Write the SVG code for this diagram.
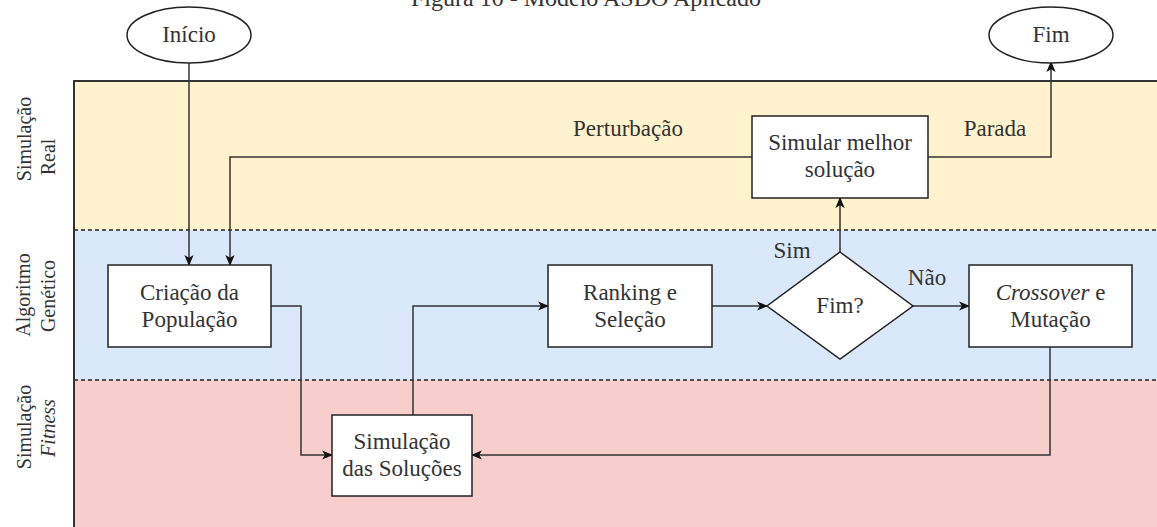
<svg xmlns="http://www.w3.org/2000/svg" width="1157" height="527" viewBox="0 0 1157 527">
  <style>
    .t { font-size: 23px; fill: #333333; text-anchor: middle; }
    .lane-t { font-size: 20px; fill: #333333; text-anchor: middle; }
    .box { fill: #ffffff; stroke: #222222; stroke-width: 1.5; }
    .edge { fill: none; stroke: #333333; stroke-width: 1.5; marker-end: url(#arrow); }
    .sep { stroke: #222222; stroke-width: 1.5; stroke-dasharray: 4 3; }
    .frame { stroke: #333333; stroke-width: 2; fill: none; }
  </style>
  <defs>
    <marker id="arrow" viewBox="0 0 10 10" refX="9" refY="5" markerWidth="11" markerHeight="11" markerUnits="userSpaceOnUse" orient="auto">
      <path d="M0,0.8 L10,5 L0,9.2 L2.5,5 Z" fill="#111111"/>
    </marker>
  </defs>

  <rect width="1157" height="527" fill="#ffffff"/>

  <!-- all lettering in one serif face -->
  <g font-family="Liberation Serif, Tinos, Noto Serif, DejaVu Serif, FreeSerif, Times New Roman, Times, serif">

  <!-- caption -->
  <text class="t" x="586" y="6" style="font-size:24px">Figura 10 - Modelo ASDO Aplicado</text>

  <!-- swimlanes -->
  <g id="lanes">
    <rect x="74" y="81" width="1083" height="149" fill="#fff2cc"/>
    <rect x="74" y="230" width="1083" height="150" fill="#dae8fc"/>
    <rect x="74" y="380" width="1083" height="147" fill="#f8cecc"/>
    <line class="sep" x1="74" y1="230" x2="1157" y2="230"/>
    <line class="sep" x1="74" y1="380" x2="1157" y2="380"/>
    <path class="frame" d="M74,527 V81 H1157"/>
    <text class="lane-t" transform="translate(31,139) rotate(-90)">Simulação</text>
    <text class="lane-t" transform="translate(55,157) rotate(-90)">Real</text>
    <text class="lane-t" transform="translate(30,295) rotate(-90)">Algoritmo</text>
    <text class="lane-t" transform="translate(55,296) rotate(-90)">Genético</text>
    <text class="lane-t" transform="translate(31,427) rotate(-90)">Simulação</text>
    <text class="lane-t" transform="translate(55,428) rotate(-90)" font-style="italic">Fitness</text>
  </g>

  <!-- connectors -->
  <g id="connectors">
    <path class="edge" d="M189,62 V265"/>
    <path class="edge" d="M752,157 H230 V265"/>
    <path class="edge" d="M271,306 H301 V455 H332"/>
    <path class="edge" d="M413,415 V306 H548"/>
    <path class="edge" d="M712,306 H767"/>
    <path class="edge" d="M913,306 H969"/>
    <path class="edge" d="M840,252 V198"/>
    <path class="edge" d="M928,157 H1051 V62"/>
    <path class="edge" d="M1050,347 V455 H472"/>
    <text class="t" x="628" y="136">Perturbação</text>
    <text class="t" x="995" y="136">Parada</text>
    <text class="t" x="792" y="258">Sim</text>
    <text class="t" x="927" y="285">Não</text>
  </g>

  <!-- nodes -->
  <g id="inicio">
    <ellipse cx="189" cy="35" rx="62" ry="28" fill="#ffffff" stroke="#222222" stroke-width="1.5"/>
    <text class="t" x="189" y="42">Início</text>
  </g>
  <g id="fim">
    <ellipse cx="1051" cy="35" rx="62" ry="28" fill="#ffffff" stroke="#222222" stroke-width="1.5"/>
    <text class="t" x="1051" y="42">Fim</text>
  </g>
  <g id="criacao">
    <rect class="box" x="108" y="265" width="163" height="82"/>
    <text class="t" x="189.5" y="300">Criação da</text>
    <text class="t" x="189.5" y="327">População</text>
  </g>
  <g id="simulacao">
    <rect class="box" x="332" y="415" width="140" height="81"/>
    <text class="t" x="402" y="449">Simulação</text>
    <text class="t" x="402" y="476">das Soluções</text>
  </g>
  <g id="ranking">
    <rect class="box" x="548" y="265" width="164" height="82"/>
    <text class="t" x="630" y="300">Ranking e</text>
    <text class="t" x="630" y="327">Seleção</text>
  </g>
  <g id="decisao">
    <polygon class="box" points="840,252 913,306 840,359 767,306"/>
    <text class="t" x="840" y="313">Fim?</text>
  </g>
  <g id="crossover">
    <rect class="box" x="969" y="265" width="163" height="82"/>
    <text class="t" x="1050.5" y="300"><tspan font-style="italic">Crossover</tspan> e</text>
    <text class="t" x="1050.5" y="327">Mutação</text>
  </g>
  <g id="melhor">
    <rect class="box" x="752" y="116" width="176" height="82"/>
    <text class="t" x="840" y="150">Simular melhor</text>
    <text class="t" x="840" y="177">solução</text>
  </g>

  </g>
</svg>
